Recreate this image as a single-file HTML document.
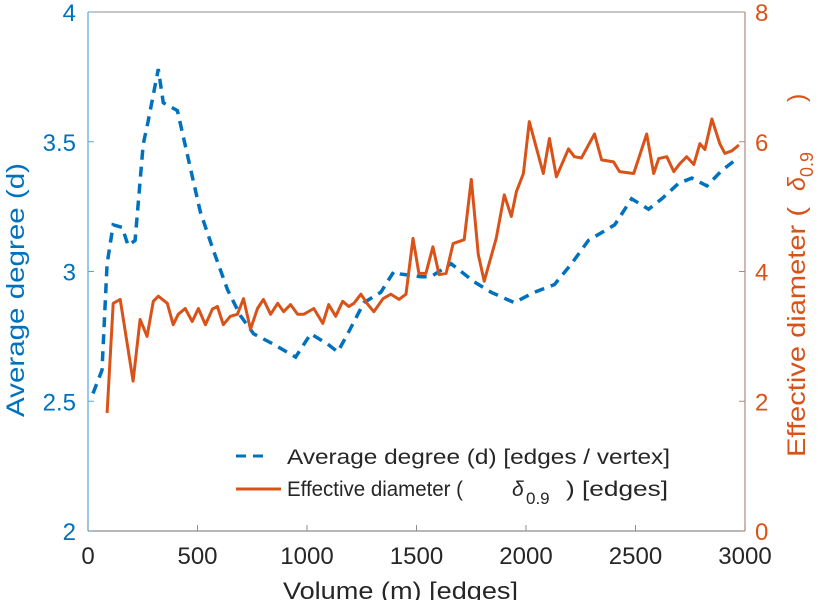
<!DOCTYPE html>
<html><head><meta charset="utf-8"><style>
body{margin:0;background:#fff;}
svg{display:block;font-family:"Liberation Sans",sans-serif;}
</style></head><body>
<svg id="chart" width="821" height="600" viewBox="0 0 821 600" xmlns="http://www.w3.org/2000/svg">
<g id="axes"></g>
<g id="series"></g>
<g id="legend">
  <line x1="236" y1="456" x2="270" y2="456" stroke="#0072BD" stroke-width="3" stroke-dasharray="10,7"/>
  <text x="287" y="464" font-size="21" fill="#262626" textLength="383" lengthAdjust="spacingAndGlyphs">Average degree (d) [edges / vertex]</text>
  <line x1="236" y1="489" x2="281" y2="489" stroke="#D95319" stroke-width="3"/>
  <g font-size="21" fill="#262626">
    <text x="287" y="496" textLength="176" lengthAdjust="spacingAndGlyphs">Effective diameter (</text>
    <text x="512" y="496" font-style="italic">δ</text>
    <text x="526" y="504" font-size="17">0.9</text>
    <text x="566" y="496" textLength="102" lengthAdjust="spacingAndGlyphs">) [edges]</text>
  </g>
</g>
<text x="283" y="599" font-size="24" fill="#262626" textLength="235" lengthAdjust="spacingAndGlyphs">Volume (m) [edges]</text>
<text transform="translate(24,290) rotate(-90)" font-size="25" fill="#0072BD" text-anchor="middle" textLength="254" lengthAdjust="spacingAndGlyphs">Average degree (d)</text>
<g transform="translate(805,0) rotate(-90)" font-size="25" fill="#D95319">
<text x="-457" y="0" textLength="250" lengthAdjust="spacingAndGlyphs">Effective diameter (</text>
<text x="-191" y="0" font-style="italic">δ</text>
<text x="-177" y="8" font-size="18">0.9</text>
<text x="-102" y="0">)</text>
</g>
</svg>
<script>
const xTicks=[0,500,1000,1500,2000,2500,3000];
const leftTicks=[2,2.5,3,3.5,4];
const leftTickLabels=["2","2.5","3","3.5","4"];
const rightTicks=[0,2,4,6,8];
const degX=[23,64,87,115,156,183,215,252,275,321,344,408,467,513,573,637,696,756,847,948,1017,1095,1140,1186,1260,1337,1397,1429,1520,1566,1658,1764,1841,1946,2038,2130,2208,2285,2345,2405,2482,2560,2620,2697,2757,2826,2895,2972];
const degY=[2.53,2.62,3.03,3.18,3.17,3.10,3.12,3.49,3.58,3.78,3.65,3.62,3.40,3.23,3.08,2.93,2.83,2.76,2.72,2.67,2.76,2.72,2.69,2.76,2.88,2.92,3.00,2.99,2.98,2.98,3.03,2.96,2.92,2.88,2.92,2.95,3.03,3.12,3.15,3.18,3.28,3.24,3.28,3.34,3.36,3.33,3.39,3.44];
const diaX=[87,115,147,206,238,270,298,321,362,389,412,444,476,504,536,568,591,618,650,682,710,742,774,801,834,866,893,925,957,985,1031,1072,1099,1131,1163,1191,1214,1246,1278,1305,1347,1383,1420,1452,1484,1511,1543,1575,1603,1635,1667,1718,1750,1782,1809,1864,1901,1933,1956,1988,2015,2079,2107,2139,2194,2221,2253,2313,2345,2400,2427,2492,2551,2583,2606,2643,2675,2702,2734,2766,2794,2817,2849,2885,2908,2940,2972];
const diaY=[1.82,3.51,3.57,2.31,3.26,3.0,3.54,3.62,3.51,3.18,3.34,3.43,3.23,3.43,3.18,3.42,3.46,3.18,3.31,3.34,3.58,3.11,3.43,3.57,3.34,3.51,3.38,3.49,3.34,3.34,3.43,3.2,3.49,3.31,3.54,3.46,3.51,3.65,3.49,3.38,3.58,3.65,3.57,3.65,4.51,3.97,3.97,4.38,3.95,3.97,4.43,4.49,5.42,4.26,3.85,4.51,5.18,4.85,5.23,5.51,6.31,5.51,6.05,5.46,5.89,5.77,5.75,6.12,5.72,5.69,5.54,5.51,6.12,5.51,5.74,5.77,5.54,5.66,5.77,5.65,5.97,5.88,6.35,5.97,5.82,5.86,5.95];

const X0=88,X1=745,YT=12,YB=531;
const xs=v=>X0+(v-0)/3000*(X1-X0);
const yl=v=>YB-(v-2)/2*(YB-YT);
const yr=v=>YB-(v/8)*(YB-YT);
const NS="http://www.w3.org/2000/svg";
function mk(tag,attrs,parent,txt){const e=document.createElementNS(NS,tag);for(const k in attrs)e.setAttribute(k,attrs[k]);if(txt!==undefined)e.textContent=txt;parent.appendChild(e);return e;}
const axes=document.getElementById('axes');
let e;
e=mk('line',{x1:X0,y1:YT,x2:X1,y2:YT,stroke:'#8c8c8c','stroke-width':1},axes);


e=mk('line',{x1:X0,y1:YB,x2:X1,y2:YB,stroke:'#8c8c8c','stroke-width':1.2},axes);


e=mk('line',{x1:X0,y1:YT,x2:X0,y2:YB,stroke:'#5aa5dc','stroke-width':1.2},axes);


e=mk('line',{x1:X1,y1:YT,x2:X1,y2:YB,stroke:'#b08a80','stroke-width':1.2},axes);


xTicks.forEach(t=>{
  const x=xs(t);
  e=mk('line',{x1:x,y1:YB,x2:x,y2:YB-6,stroke:'#8c8c8c'},axes);
  
  
  e=mk('text',{x:x,y:YB+33,'font-size':24,fill:'#262626','text-anchor':'middle'},axes,String(t));
  
  
});
leftTicks.forEach((t,i)=>{
  const y=yl(t);
  e=mk('line',{x1:X0,y1:y,x2:X0+6,y2:y,stroke:'#5aa5dc'},axes);
  
  
  e=mk('text',{x:X0-12,y:y+9,'font-size':24,fill:'#0072BD','text-anchor':'end'},axes,leftTickLabels[i]);
  
  
});
rightTicks.forEach(t=>{
  const y=yr(t);
  e=mk('line',{x1:X1,y1:y,x2:X1-6,y2:y,stroke:'#b08a80'},axes);
  
  
  e=mk('text',{x:X1+10,y:y+9,'font-size':24,fill:'#D95319','text-anchor':'start'},axes,String(t));
  
  
});
const ser=document.getElementById('series');
const dPts=degX.map((v,i)=>xs(v).toFixed(1)+','+yl(degY[i]).toFixed(1)).join(' ');
e=mk('polyline',{points:dPts,fill:'none',stroke:'#0072BD','stroke-width':3.5,'stroke-dasharray':'10,7'},ser);


const rPts=diaX.map((v,i)=>xs(v).toFixed(1)+','+yr(diaY[i]).toFixed(1)).join(' ');
e=mk('polyline',{points:rPts,fill:'none',stroke:'#D95319','stroke-width':3,'stroke-linejoin':'round'},ser);


</script>
</body></html>
